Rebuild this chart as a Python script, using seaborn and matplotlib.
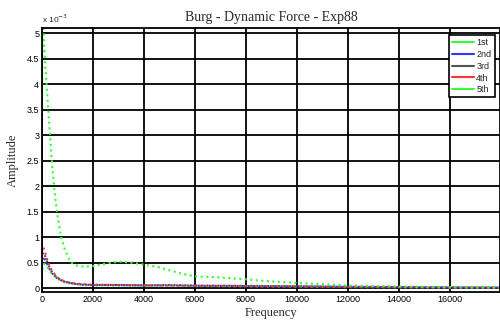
import matplotlib
matplotlib.use("Agg")
import matplotlib.pyplot as plt
import seaborn as sns
import pandas as pd
from matplotlib.ticker import FuncFormatter, MultipleLocator

# ---- data (amplitudes in units of 1e-3) ----
freq_small = [0, 40, 100, 200, 300, 400, 600, 800, 1000, 1300, 1600, 2000, 3000,
              4000, 5000, 6000, 8000, 10000, 12000, 14000, 16000, 18000]
amp_1st = [0.25, 0.45, 0.48, 0.42, 0.34, 0.27, 0.18, 0.13, 0.10, 0.08, 0.06, 0.05, 0.05,
           0.045, 0.05, 0.04, 0.035, 0.03, 0.02, 0.015, 0.01, 0.008]
amp_2nd = [0.45, 0.62, 0.58, 0.48, 0.37, 0.29, 0.19, 0.14, 0.11, 0.08, 0.065, 0.06, 0.06,
           0.05, 0.055, 0.045, 0.04, 0.035, 0.025, 0.02, 0.015, 0.01]
amp_3rd = [0.55, 0.70, 0.66, 0.52, 0.40, 0.31, 0.20, 0.14, 0.11, 0.085, 0.07, 0.065, 0.06,
           0.055, 0.06, 0.05, 0.045, 0.035, 0.025, 0.02, 0.015, 0.01]
amp_4th = [0.70, 0.80, 0.74, 0.57, 0.43, 0.33, 0.21, 0.15, 0.115, 0.09, 0.075, 0.065, 0.06,
           0.055, 0.05, 0.045, 0.04, 0.035, 0.025, 0.02, 0.015, 0.01]
freq_5th = [0, 20, 60, 150, 300, 400, 500, 600, 750, 900, 1100, 1300, 1600, 2000, 2500,
            3000, 3500, 4000, 4500, 5000, 5500, 6000, 7000, 8000, 9000, 10000, 12000,
            14000, 16000, 18000]
amp_5th = [2.9, 5.3, 5.0, 4.2, 3.1, 2.4, 1.85, 1.45, 1.0, 0.75, 0.52, 0.45, 0.42, 0.43, 0.48,
           0.52, 0.50, 0.46, 0.42, 0.35, 0.28, 0.23, 0.21, 0.17, 0.13, 0.10, 0.05,
           0.03, 0.015, 0.01]
series_names = ["1st", "2nd", "3rd", "4th", "5th"]
colors = ["#33ff33", "#3333ff", "#555555", "#ff3333", "#33ff33"]

rows = []
for name, fr, am in [("1st", freq_small, amp_1st), ("2nd", freq_small, amp_2nd),
                     ("3rd", freq_small, amp_3rd), ("4th", freq_small, amp_4th),
                     ("5th", freq_5th, amp_5th)]:
    for f, a in zip(fr, am):
        rows.append({"Frequency": f, "Amplitude": a * 1e-3, "series": name})
df = pd.DataFrame(rows)

sns.set_style("white")
fig = plt.figure(figsize=(5, 3.2), dpi=100)
ax = fig.add_axes([0.084, 0.087, 0.916, 0.825])

sns.lineplot(data=df, x="Frequency", y="Amplitude", hue="series",
             hue_order=series_names, palette=colors, ax=ax, sort=False,
             estimator=None, linewidth=1.5, linestyle=":", legend=True)

ax.set_xlim(0, 17960)
ax.set_ylim(-0.08e-3, 5.1e-3)
ax.xaxis.set_major_locator(MultipleLocator(2000))
ax.yaxis.set_major_locator(MultipleLocator(0.5e-3))
ax.yaxis.set_major_formatter(FuncFormatter(lambda v, p: f"{v*1e3:g}"))
ax.grid(True, color="black", linewidth=1.3)
for s in ax.spines.values():
    s.set_color("black")
    s.set_linewidth(1.3)
ax.tick_params(axis="both", labelsize=6.5, length=2, direction="in", pad=2,
               colors="black")
for lab in ax.get_xticklabels() + ax.get_yticklabels():
    lab.set_fontfamily(["Liberation Sans", "DejaVu Sans"])

ax.set_title("Burg - Dynamic Force - Exp88", fontfamily="Liberation Serif",
             fontsize=10, pad=5)
ax.set_xlabel("Frequency", fontfamily="Liberation Serif", fontsize=9, labelpad=2)
ax.set_ylabel("Amplitude", fontfamily="Liberation Serif", fontsize=9, labelpad=6)
ax.text(0.0, 1.012, r"x 10$^{-3}$", transform=ax.transAxes, fontsize=6,
        fontfamily="Liberation Sans", ha="left", va="bottom")

handles, labels = ax.get_legend_handles_labels()
for h in handles:
    h.set_linestyle("-")
leg = ax.legend(handles, labels, loc="upper right", bbox_to_anchor=(0.998, 0.99),
                frameon=True, fancybox=False, handlelength=2.4,
                borderpad=0.35, labelspacing=0.3, handletextpad=0.3,
                prop={"family": "Liberation Sans", "size": 6.5})
leg.get_frame().set_edgecolor("black")
leg.get_frame().set_linewidth(1.2)
leg.get_frame().set_alpha(1)

fig.savefig("out.png", dpi=100)
